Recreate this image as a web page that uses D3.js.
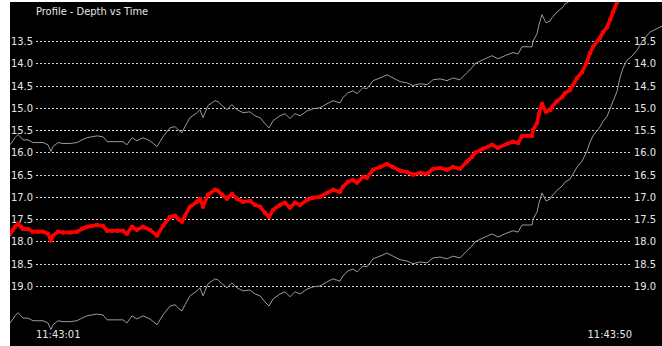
<!DOCTYPE html>
<html>
<head>
<meta charset="utf-8">
<script src="https://cdn.jsdelivr.net/npm/d3@7/dist/d3.min.js"></script>
<style>
  html, body { margin: 0; padding: 0; background: #ffffff; }
  svg { display: block; }
  text { font-family: "Liberation Sans Narrow", "Arial Narrow", "DejaVu Sans Condensed", sans-serif; font-size: 11px; fill: #e6e6e6; }
</style>
</head>
<body>
<svg id="chart" width="662" height="346"></svg>
<script>
// ---- data (seconds after 11:43:00, depth) ----
const timeSec = [-1.14,-0.89,-0.73,-0.48,-0.23,-0.07,0.34,0.75,1.16,1.58,1.99,2.23,2.40,2.81,3.22,3.80,4.37,4.78,5.19,5.60,
  6.02,6.51,6.84,7.25,7.66,8.15,8.48,8.89,9.30,9.80,10.37,10.95,11.44,12.02,12.43,12.76,13.00,13.25,13.66,14.24,
  14.48,14.73,15.14,15.72,15.96,16.29,16.70,17.11,17.52,18.02,18.59,19.01,19.42,19.83,20.16,20.49,21.06,21.47,21.88,22.29,
  22.71,23.28,23.77,24.35,24.92,25.42,25.99,26.24,26.65,27.06,27.39,27.88,28.21,28.71,29.28,29.86,30.35,30.93,31.50,32.00,
  32.57,33.15,33.64,34.22,34.79,35.28,35.86,36.43,36.85,37.09,37.75,38.49,38.98,39.72,40.22,40.63,40.96,41.78,41.86,42.19,
  42.35,42.60,42.93,43.26,43.42,43.83,44.25,44.49,44.90,45.15,45.48,45.89,46.30,46.55,46.79,47.37,47.62,47.95,48.19,48.44,
  48.77,49.02,49.26,49.59,50.00,50.41,50.91,51.48,52.14,52.63];
const depth = [17.83,17.74,17.67,17.60,17.67,17.72,17.72,17.78,17.78,17.78,17.83,17.98,17.87,17.78,17.80,17.80,17.78,17.72,17.67,17.65,
  17.63,17.65,17.76,17.76,17.76,17.76,17.83,17.67,17.74,17.67,17.74,17.87,17.65,17.45,17.42,17.51,17.56,17.42,17.22,17.11,
  17.04,17.22,16.95,16.84,16.86,16.95,17.04,16.93,17.04,17.11,17.09,17.18,17.22,17.36,17.45,17.29,17.18,17.13,17.24,17.13,
  17.18,17.07,17.02,17.00,16.91,16.84,16.89,16.77,16.66,16.62,16.68,16.55,16.57,16.39,16.33,16.26,16.33,16.41,16.44,16.50,
  16.46,16.48,16.37,16.35,16.39,16.33,16.37,16.21,16.10,16.01,15.92,15.83,15.90,15.81,15.76,15.79,15.63,15.63,15.50,15.34,
  15.14,14.91,15.09,15.05,14.98,14.85,14.76,14.67,14.60,14.49,14.33,14.20,13.97,13.77,13.63,13.43,13.30,13.19,13.03,12.85,
  12.63,12.31,12.11,11.93,11.84,11.71,11.48,11.30,11.21,11.15];
const bandOffset = 2.0;            // tolerance band drawn above and below the depth trace
const depthTicks = [13.5,14.0,14.5,15.0,15.5,16.0,16.5,17.0,17.5,18.0,18.5,19.0];
const timeTickSec = [1, 50];       // 11:43:01 and 11:43:50
const titleText = "Profile - Depth vs Time";

// ---- build ----
const base = new Date(2020, 0, 1, 11, 43, 0);
const toDate = s => new Date(base.getTime() + s * 1000);
const data = timeSec.map((s, i) => ({ t: toDate(s), d: depth[i] }));

const W = 662, H = 346;
const svg = d3.select("#chart");
const plot = { left: 10, top: 2, right: 662, bottom: 346 };
const gridL = 36, gridR = 632;

const x = d3.scaleTime().domain([toDate(timeTickSec[0]), toDate(timeTickSec[1])]).range([gridL, gridR]);
const y = d3.scaleLinear().domain([13.5, 19.0]).range([41, 286]);

svg.append("rect").attr("x", plot.left).attr("y", plot.top)
  .attr("width", plot.right - plot.left).attr("height", plot.bottom - plot.top).attr("fill", "#000");

svg.append("clipPath").attr("id", "clip").append("rect")
  .attr("x", plot.left).attr("y", plot.top)
  .attr("width", plot.right - plot.left).attr("height", plot.bottom - plot.top);

// grid
const grid = svg.append("g");
depthTicks.forEach(v => {
  const yy = Math.round(y(v)) + 0.5;
  grid.append("line").attr("x1", gridL).attr("x2", gridR).attr("y1", yy).attr("y2", yy)
    .attr("stroke", "#d8d8d8").attr("stroke-width", 1).attr("stroke-dasharray", "2,2");
});

// y labels (left via axis, right via axis)
const fmt = d3.format(".1f");
const axL = svg.append("g").attr("transform", `translate(${gridL - 3},0)`)
  .call(d3.axisLeft(y).tickValues(depthTicks).tickFormat(fmt).tickSize(0).tickPadding(0));
const axR = svg.append("g").attr("transform", `translate(${gridR + 2},0)`)
  .call(d3.axisRight(y).tickValues(depthTicks).tickFormat(fmt).tickSize(0).tickPadding(0));
[axL, axR].forEach(a => { a.select(".domain").remove(); a.selectAll("text").attr("fill", "#e6e6e6").style("font-size", "11px").style("font-family", null); });

// lines
const g = svg.append("g").attr("clip-path", "url(#clip)");
const line = d3.line().x(p => x(p.t)).y(p => y(p.d));
const lineUp = d3.line().x(p => x(p.t)).y(p => y(p.d - bandOffset));
const lineDn = d3.line().x(p => x(p.t)).y(p => y(p.d + bandOffset));

g.append("path").datum(data).attr("d", lineUp).attr("fill", "none").attr("stroke", "#9a9a9a").attr("stroke-width", 1);
g.append("path").datum(data).attr("d", lineDn).attr("fill", "none").attr("stroke", "#9a9a9a").attr("stroke-width", 1);
g.append("path").datum(data).attr("d", line).attr("fill", "none").attr("stroke", "#ff0000")
  .attr("stroke-width", 3.6).attr("stroke-linejoin", "round").attr("stroke-linecap", "round");
g.selectAll("circle").data(data).join("circle")
  .attr("cx", p => x(p.t)).attr("cy", p => y(p.d)).attr("r", 2.2).attr("fill", "#ff0000");

// title
svg.append("text").attr("x", 36).attr("y", 15).text(titleText);

// time labels
const tf = d3.timeFormat("%H:%M:%S");
svg.selectAll("text.tl").data(timeTickSec).join("text").attr("class", "tl")
  .attr("x", s => x(toDate(s))).attr("y", 338)
  .attr("text-anchor", (s, i) => i === 0 ? "start" : "end")
  .text(s => tf(toDate(s)));
</script>
</body>
</html>
